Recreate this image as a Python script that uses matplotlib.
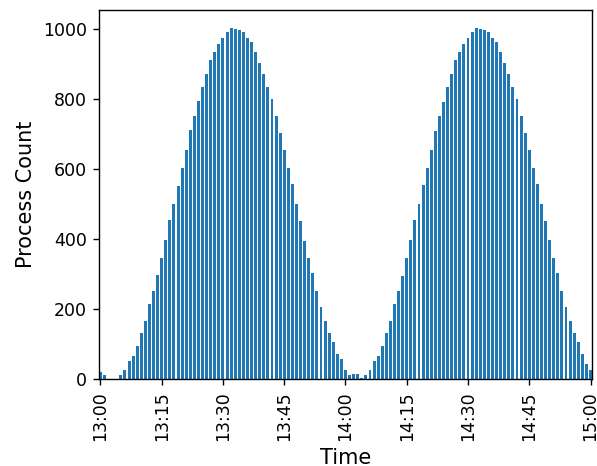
import matplotlib
matplotlib.use("Agg")
import matplotlib.pyplot as plt
import matplotlib.dates as mdates
import pandas as pd

# per-minute process counts, 13:00 .. 15:00
counts_first_hour = [21, 10, 0, 0, 0, 12, 27, 50, 67, 95, 130, 167, 215, 250, 298,
                     347, 398, 455, 501, 552, 604, 655, 712, 752, 795, 835, 872, 912,
                     935, 958, 975, 990, 1004, 1001, 998, 990, 975, 964, 935, 904, 872,
                     835, 801, 752, 704, 655, 604, 558, 501, 450, 395, 347, 304, 250,
                     207, 167, 130, 107, 70, 58]
counts_second_hour = [27, 12, 15, 15, 4, 12, 27, 50, 67, 95, 130, 167, 215, 250, 295,
                      347, 398, 455, 501, 555, 604, 655, 709, 752, 792, 835, 872, 912,
                      935, 958, 975, 990, 1004, 1001, 998, 990, 975, 964, 935, 904, 872,
                      835, 801, 752, 704, 655, 604, 558, 501, 450, 398, 347, 304, 250,
                      207, 167, 130, 107, 70, 44, 27]
counts = counts_first_hour + counts_second_hour
times = pd.date_range("2024-01-01 13:00", periods=len(counts), freq="min")

fig = plt.figure(figsize=(597 / 125, 466 / 125), dpi=125)
ax = fig.add_axes([0.1658, 0.1867, 0.8258, 0.7918])

ax.bar(times, counts, width=0.0005, color="#1f77b4")
ax.margins(x=0)

ax.xaxis.set_major_locator(mdates.MinuteLocator(byminute=[0, 15, 30, 45]))
ax.xaxis.set_major_formatter(mdates.DateFormatter("%H:%M"))
plt.setp(ax.get_xticklabels(), rotation=90)

ax.set_xlabel("Time", fontsize=12)
ax.set_ylabel("Process Count", fontsize=12)

fig.savefig("out.png", dpi=125)
